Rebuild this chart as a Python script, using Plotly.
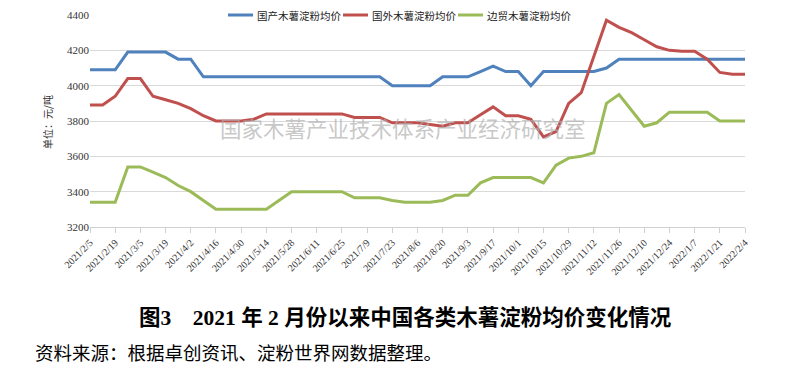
import plotly.graph_objects as go

dates = ["2021/2/5","2021/2/12","2021/2/19","2021/2/26","2021/3/5","2021/3/12","2021/3/19","2021/3/26",
         "2021/4/2","2021/4/9","2021/4/16","2021/4/23","2021/4/30","2021/5/7","2021/5/14","2021/5/21",
         "2021/5/28","2021/6/4","2021/6/11","2021/6/18","2021/6/25","2021/7/2","2021/7/9","2021/7/16",
         "2021/7/23","2021/7/30","2021/8/6","2021/8/13","2021/8/20","2021/8/27","2021/9/3","2021/9/10",
         "2021/9/17","2021/9/24","2021/10/1","2021/10/8","2021/10/15","2021/10/22","2021/10/29","2021/11/5",
         "2021/11/12","2021/11/19","2021/11/26","2021/12/3","2021/12/10","2021/12/17","2021/12/24","2021/12/31",
         "2022/1/7","2022/1/14","2022/1/21","2022/1/28","2022/2/4"]

domestic = [4090,4090,4090,4190,4190,4190,4190,4150,4150,4050,
            4050,4050,4050,4050,4050,4050,4050,4050,4050,4050,
            4050,4050,4050,4050,4000,4000,4000,4000,4050,4050,
            4050,4080,4110,4080,4080,4000,4080,4080,4080,4080,
            4080,4100,4150,4150,4150,4150,4150,4150,4150,4150,
            4150,4150,4150]

foreign = [3890,3890,3940,4040,4040,3940,3920,3900,3870,3830,
           3800,3800,3800,3810,3840,3840,3840,3840,3840,3840,
           3840,3820,3820,3820,3790,3790,3790,3780,3770,3790,
           3790,3835,3880,3830,3830,3810,3710,3740,3900,3960,
           4170,4370,4330,4300,4260,4220,4200,4195,4195,4150,
           4075,4065,4065]

border = [3340,3340,3340,3540,3540,3510,3480,3435,3400,3350,
          3300,3300,3300,3300,3300,3350,3400,3400,3400,3400,
          3400,3365,3365,3365,3350,3340,3340,3340,3350,3380,
          3380,3450,3480,3480,3480,3480,3450,3550,3590,3600,
          3620,3900,3950,3860,3770,3790,3850,3850,3850,3850,
          3800,3800,3800]

names = ["国产木薯淀粉均价", "国外木薯淀粉均价", "边贸木薯淀粉均价"]
colors = ["#4F81BD", "#C0504D", "#9BBB59"]

x = list(range(len(dates)))
tick_idx = list(range(0, len(dates), 2))
tick_text = [dates[i] for i in tick_idx]

serif = "Liberation Serif, Noto Sans CJK SC"
cjk = "Noto Sans CJK SC"

L, R, T, B = 90, 42, 15, 150
W, H = 787, 377
PW, PH = W - L - R, H - T - B


def px(xp):
    return (xp - L) / PW


def py(yp):
    return (H - B - yp) / PH


fig = go.Figure()
for name, vals, c in zip(names, [domestic, foreign, border], colors):
    fig.add_trace(go.Scatter(x=x, y=vals, mode="lines", name=name,
                             line=dict(color=c, width=3), showlegend=False,
                             hoverinfo="skip"))

fig.update_layout(
    width=W, height=H,
    margin=dict(l=L, r=R, t=T, b=B, autoexpand=False),
    plot_bgcolor="white", paper_bgcolor="white",
    showlegend=False,
    xaxis=dict(range=[0, 52], tickmode="array", tickvals=tick_idx, ticktext=tick_text,
               tickangle=-45, tickfont=dict(family=serif, size=10, color="#333"),
               showgrid=False, showline=True, linecolor="#d0d0d0", linewidth=1,
               ticks="outside", ticklen=5, tickcolor="#d0d0d0", zeroline=False,
               automargin=False),
    yaxis=dict(range=[3200, 4400], dtick=200, tick0=3200,
               tickfont=dict(family=serif, size=11, color="#333"),
               showgrid=True, gridcolor="#d9d9d9", gridwidth=1,
               showline=False, zeroline=False, ticks="", automargin=False),
)

# legend (drawn manually so it sits on the top gridline)
fig.add_shape(type="rect", xref="paper", yref="paper", x0=px(224), x1=px(570),
              y0=py(22), y1=py(8), fillcolor="white", line=dict(width=0), layer="above")
leg_x = [228, 343, 458]
for name, c, lx in zip(names, colors, leg_x):
    fig.add_shape(type="line", xref="paper", yref="paper", x0=px(lx), x1=px(lx + 25),
                  y0=py(15), y1=py(15), line=dict(color=c, width=3), layer="above")
    fig.add_annotation(text=name, xref="paper", yref="paper", x=px(lx + 27), y=py(15),
                       xanchor="left", yanchor="middle", showarrow=False,
                       font=dict(family=cjk, size=10.5, color="#222"))

fig.add_annotation(text="单位：元/吨", textangle=-90, xref="paper", yref="paper",
                   x=px(47), y=py(122), xanchor="center", yanchor="middle",
                   showarrow=False, font=dict(family=cjk, size=10, color="#333"))

fig.add_annotation(text="国家木薯产业技术体系产业经济研究室", xref="paper", yref="paper",
                   x=px(403), y=py(127), xanchor="center", yanchor="middle",
                   showarrow=False, font=dict(family=cjk, size=21.5, color="rgba(175,175,175,0.7)"))

fig.add_annotation(text="<b>图3\u00a0\u00a0\u00a0\u00a02021 年 2 月份以来中国各类木薯淀粉均价变化情况</b>",
                   xref="paper", yref="paper", x=px(405), y=py(318),
                   xanchor="center", yanchor="middle", showarrow=False,
                   font=dict(family=serif, size=21.5, color="black"))

fig.add_annotation(text="资料来源：根据卓创资讯、淀粉世界网数据整理。",
                   xref="paper", yref="paper", x=px(33), y=py(354),
                   xanchor="left", yanchor="middle", showarrow=False,
                   font=dict(family=serif, size=18.5, color="black"))

fig.write_html("out.html", config={"displayModeBar": False},
               post_script="document.body.style.margin='0';document.body.style.overflow='hidden';")
